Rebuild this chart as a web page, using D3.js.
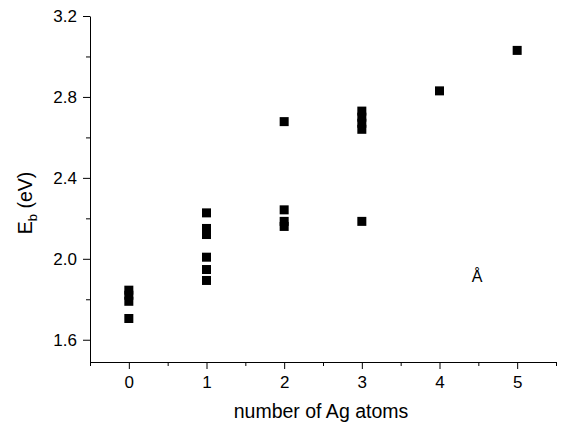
<!DOCTYPE html>
<html>
<head>
<meta charset="utf-8">
<script src="https://cdn.jsdelivr.net/npm/d3@7"></script>
<style>
  html, body { margin: 0; padding: 0; background: #fff; }
  svg { display: block; font-family: "Liberation Sans", Arial, sans-serif; }
</style>
</head>
<body>
<svg id="chart" width="565" height="424"></svg>
<script>
// Data
const atoms = [0, 0, 0, 0, 1, 1, 1, 1, 1, 1, 2, 2, 2, 2, 3, 3, 3, 3, 3, 4, 5];
const eb = [1.845, 1.82, 1.79, 1.705, 2.227, 2.15, 2.12, 2.008, 1.947, 1.893,
            2.678, 2.242, 2.185, 2.16, 2.73, 2.70, 2.67, 2.64, 2.185, 2.83, 3.03];
const xMajor = [0, 1, 2, 3, 4, 5];
const xMinor = [-0.5, 0.5, 1.5, 2.5, 3.5, 4.5, 5.5];
const yMajor = [1.6, 2.0, 2.4, 2.8, 3.2];
const yMinor = [1.8, 2.2, 2.6, 3.0];
const xTitle = "number of Ag atoms";
const annotation = "Å";

const svg = d3.select("#chart");
const x = d3.scaleLinear().domain([-0.5, 5.5]).range([90, 556]);
const y = d3.scaleLinear().domain([1.49, 3.2]).range([362, 16]);

// X axis
const gx = svg.append("g").attr("transform", "translate(0,362)");
gx.call(d3.axisBottom(x).tickValues(xMajor).tickSize(7).tickSizeOuter(0).tickPadding(7).tickFormat(d3.format("d")));
gx.append("g").call(d3.axisBottom(x).tickValues(xMinor).tickSize(4).tickSizeOuter(0).tickFormat(""))
  .select(".domain").remove();

// Y axis
const gy = svg.append("g").attr("transform", "translate(90,0)");
gy.call(d3.axisLeft(y).tickValues(yMajor).tickSize(7).tickSizeOuter(0).tickPadding(6).tickFormat(d3.format(".1f")));
gy.append("g").call(d3.axisLeft(y).tickValues(yMinor).tickSize(4).tickSizeOuter(0).tickFormat(""))
  .select(".domain").remove();

svg.selectAll(".tick text").attr("font-size", 17).attr("font-family", "Liberation Sans, Arial, sans-serif").attr("fill", "#000");
svg.selectAll(".domain, .tick line").attr("stroke", "#000").attr("stroke-width", 1);

// Points
const s = 9;
svg.append("g").selectAll("rect").data(atoms.map((a, i) => [a, eb[i]])).join("rect")
  .attr("x", d => x(d[0]) - s / 2)
  .attr("y", d => y(d[1]) - s / 2)
  .attr("width", s).attr("height", s)
  .attr("fill", "#000");

// Axis titles
svg.append("text").attr("x", 321).attr("y", 418)
  .attr("text-anchor", "middle").attr("font-size", 19.5).text(xTitle);

const yl = svg.append("text").attr("transform", "translate(32,203) rotate(-90)")
  .attr("text-anchor", "middle").attr("font-size", 19.5);
yl.append("tspan").text("E");
yl.append("tspan").attr("font-size", 13).attr("dy", 5).text("b");
yl.append("tspan").attr("dy", -5).text(" (eV)");

// Annotation
svg.append("text").attr("x", 477).attr("y", 282).attr("text-anchor", "middle")
  .attr("font-size", 16).text(annotation);
</script>
</body>
</html>
